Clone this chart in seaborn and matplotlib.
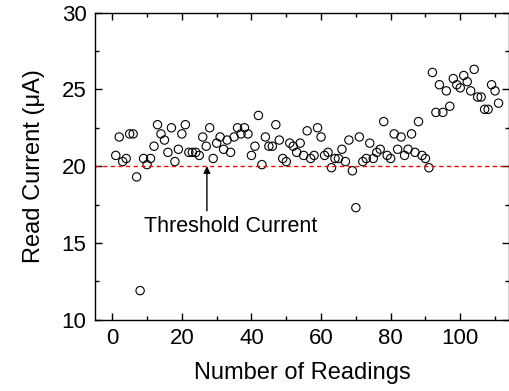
import numpy as np
import pandas as pd
import matplotlib
matplotlib.use("Agg")
import matplotlib.pyplot as plt
import seaborn as sns

sns.set_style("ticks")
plt.rcParams['font.family'] = ['Liberation Sans', 'DejaVu Sans']
plt.rcParams['xtick.direction'] = 'in'
plt.rcParams['ytick.direction'] = 'in'
plt.rcParams['text.color'] = 'black'
plt.rcParams['axes.labelcolor'] = 'black'
plt.rcParams['xtick.color'] = 'black'
plt.rcParams['ytick.color'] = 'black'
plt.rcParams['axes.edgecolor'] = 'black'

# read current for each reading (uA), readings 1..111
current = [
    20.7, 21.9, 20.3, 20.5, 22.1, 22.1, 19.3, 11.9, 20.5, 20.1,
    20.5, 21.3, 22.7, 22.1, 21.7, 20.9, 22.5, 20.3, 21.1, 22.1,
    22.7, 20.9, 20.9, 20.9, 20.7, 21.9, 21.3, 22.5, 20.5, 21.5,
    21.9, 21.1, 21.7, 20.9, 21.9, 22.5, 22.1, 22.5, 22.1, 20.7,
    21.3, 23.3, 20.1, 21.9, 21.3, 21.3, 22.7, 21.7, 20.5, 20.3,
    21.5, 21.3, 20.9, 21.5, 20.7, 22.3, 20.5, 20.7, 22.5, 21.9,
    20.7, 20.9, 19.9, 20.5, 20.5, 21.1, 20.3, 21.7, 19.7, 17.3,
    21.9, 20.3, 20.5, 21.5, 20.5, 20.9, 21.1, 22.9, 20.7, 20.5,
    22.1, 21.1, 21.9, 20.7, 21.1, 22.1, 20.9, 22.9, 20.7, 20.5,
    19.9, 26.1, 23.5, 25.3, 23.5, 24.9, 23.9, 25.7, 25.3, 25.1,
    25.9, 25.5, 24.9, 26.3, 24.5, 24.5, 23.7, 23.7, 25.3, 24.9,
    24.1,
]
readings = list(range(1, len(current) + 1))
threshold = 20.0

df = pd.DataFrame({"reading": readings, "current": current})

fig = plt.figure(figsize=(5.10, 3.91), dpi=100)
ax = fig.add_axes([0.186, 0.182, 0.812, 0.786])

sns.scatterplot(data=df, x="reading", y="current", ax=ax, s=36,
                facecolor="none", edgecolor="black", linewidth=0.8)
ax.axhline(threshold, ls=(0, (3, 2.5)), c="red", lw=1)

ax.annotate("", xy=(27.2, threshold), xytext=(27.2, 17.1),
            arrowprops=dict(arrowstyle="-|>", color="black", lw=1,
                            mutation_scale=10, shrinkA=0, shrinkB=0))
ax.text(34, 16.05, "Threshold Current", ha="center", va="center", fontsize=15.5)

ax.set_xlim(-5, 114)
ax.set_ylim(10, 30)
ax.set_xticks([0, 20, 40, 60, 80, 100])
ax.set_xticks([10, 30, 50, 70, 90, 110], minor=True)
ax.set_yticks([10, 15, 20, 25, 30])
ax.set_yticks([12.5, 17.5, 22.5, 27.5], minor=True)
ax.tick_params(which="both", top=True, right=True, labelsize=16, width=1,
               color="black", pad=6)
ax.tick_params(which="major", length=5)
ax.tick_params(which="minor", length=3)
for sp in ax.spines.values():
    sp.set_linewidth(1)
    sp.set_color("black")

ax.set_xlabel("Number of Readings", fontsize=17, labelpad=9)
ax.set_ylabel("Read Current (μA)", fontsize=17, labelpad=12)

fig.savefig("out.png", dpi=100)
